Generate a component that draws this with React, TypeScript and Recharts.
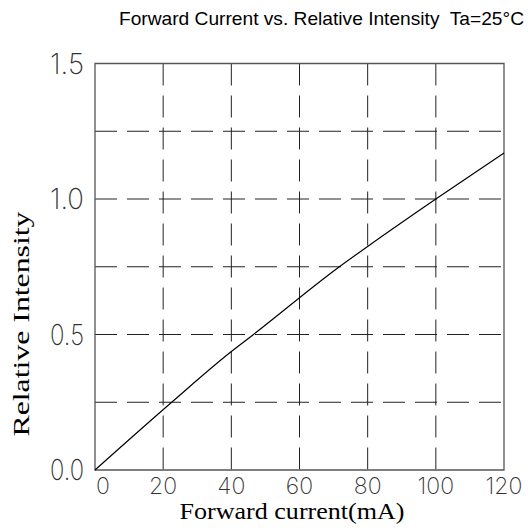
import {
  ComposedChart,
  Line,
  XAxis,
  YAxis,
  CartesianGrid,
  ReferenceArea,
} from "recharts";

const current = [0, 22.5, 40, 46.5, 71.7, 80, 100, 120];
const intensity = [0, 0.25, 0.437, 0.5, 0.75, 0.825, 1.0, 1.17];
const xTicks = [0, 20, 40, 60, 80, 100, 120];
const yTicks = [0, 0.5, 1.0, 1.5];
const gridX = [20, 40, 60, 80, 100];
const gridY = [0.25, 0.5, 0.75, 1.0, 1.25];

const data = current.map((c, i) => ({ current: c, intensity: intensity[i] }));

const tickFont = "Inter, 'Liberation Sans Narrow', sans-serif";
const labelFont = "'Liberation Serif', 'DejaVu Serif', serif";

function XTick(props: any) {
  const { x, payload } = props;
  const v = payload.value;
  const anchor = v === 0 ? "start" : "middle";
  return (
    <text
      x={v === 0 ? x + 1 : x}
      y={494}
      textAnchor={anchor}
      fontFamily={tickFont}
      fontWeight={200}
      fontSize={23}
      fill="#333"
    >
      {v}
    </text>
  );
}

function YTick(props: any) {
  const { x, y, payload } = props;
  return (
    <text
      x={x - 3}
      y={y + 10}
      textAnchor="end"
      fontFamily={tickFont}
      fontWeight={200}
      fontSize={29}
      fill="#333"
      textLength={34}
      lengthAdjust="spacingAndGlyphs"
    >
      {payload.value.toFixed(1)}
    </text>
  );
}

export default function App() {
  return (
    <div
      style={{
        position: "absolute",
        left: 0,
        top: 0,
        width: 528,
        height: 532,
        background: "#fff",
        overflow: "hidden",
      }}
    >
      <svg
        width={528}
        height={40}
        style={{ position: "absolute", left: 0, top: 0 }}
      >
        <text
          x={119}
          y={25}
          fontFamily="'Liberation Sans', Arial, sans-serif"
          fontSize={18.5}
          fill="#000"
          style={{ whiteSpace: "pre" }}
          textLength={405}
          lengthAdjust="spacingAndGlyphs"
        >
          Forward Current vs. Relative Intensity  Ta=25°C
        </text>
      </svg>
      <ComposedChart
        width={528}
        height={532}
        data={data}
        margin={{ top: 63.5, right: 24, left: 15, bottom: 22 }}
      >
        <CartesianGrid
          horizontalValues={gridY}
          verticalValues={gridX}
          stroke="#222"
          strokeDasharray="22 10"
        />
        <XAxis
          dataKey="current"
          type="number"
          domain={[0, 120]}
          ticks={xTicks}
          tickLine={false}
          axisLine={false}
          height={40}
          tick={<XTick />}
          label={{
            content: () => (
              <text
                x={292}
                y={519}
                textAnchor="middle"
                fontFamily={labelFont}
                fontSize={23}
                fill="#000"
                textLength={225}
                lengthAdjust="spacingAndGlyphs"
              >
                Forward current(mA)
              </text>
            ),
          }}
        />
        <YAxis
          type="number"
          domain={[0, 1.5]}
          ticks={yTicks}
          tickLine={false}
          axisLine={false}
          width={80}
          tick={<YTick />}
          label={{
            content: () => (
              <text
                x={29}
                y={324}
                transform="rotate(-90 29 324)"
                textAnchor="middle"
                fontFamily={labelFont}
                fontSize={23}
                fill="#000"
                textLength={225}
                lengthAdjust="spacingAndGlyphs"
              >
                Relative Intensity
              </text>
            ),
          }}
        />
        <ReferenceArea
          x1={0}
          x2={120}
          y1={0}
          y2={1.5}
          fill="none"
          stroke="#555"
          strokeWidth={1.3}
          ifOverflow="visible"
        />
        <Line
          dataKey="intensity"
          type="monotone"
          stroke="#000"
          strokeWidth={1.2}
          dot={false}
          isAnimationActive={false}
        />
      </ComposedChart>
    </div>
  );
}
